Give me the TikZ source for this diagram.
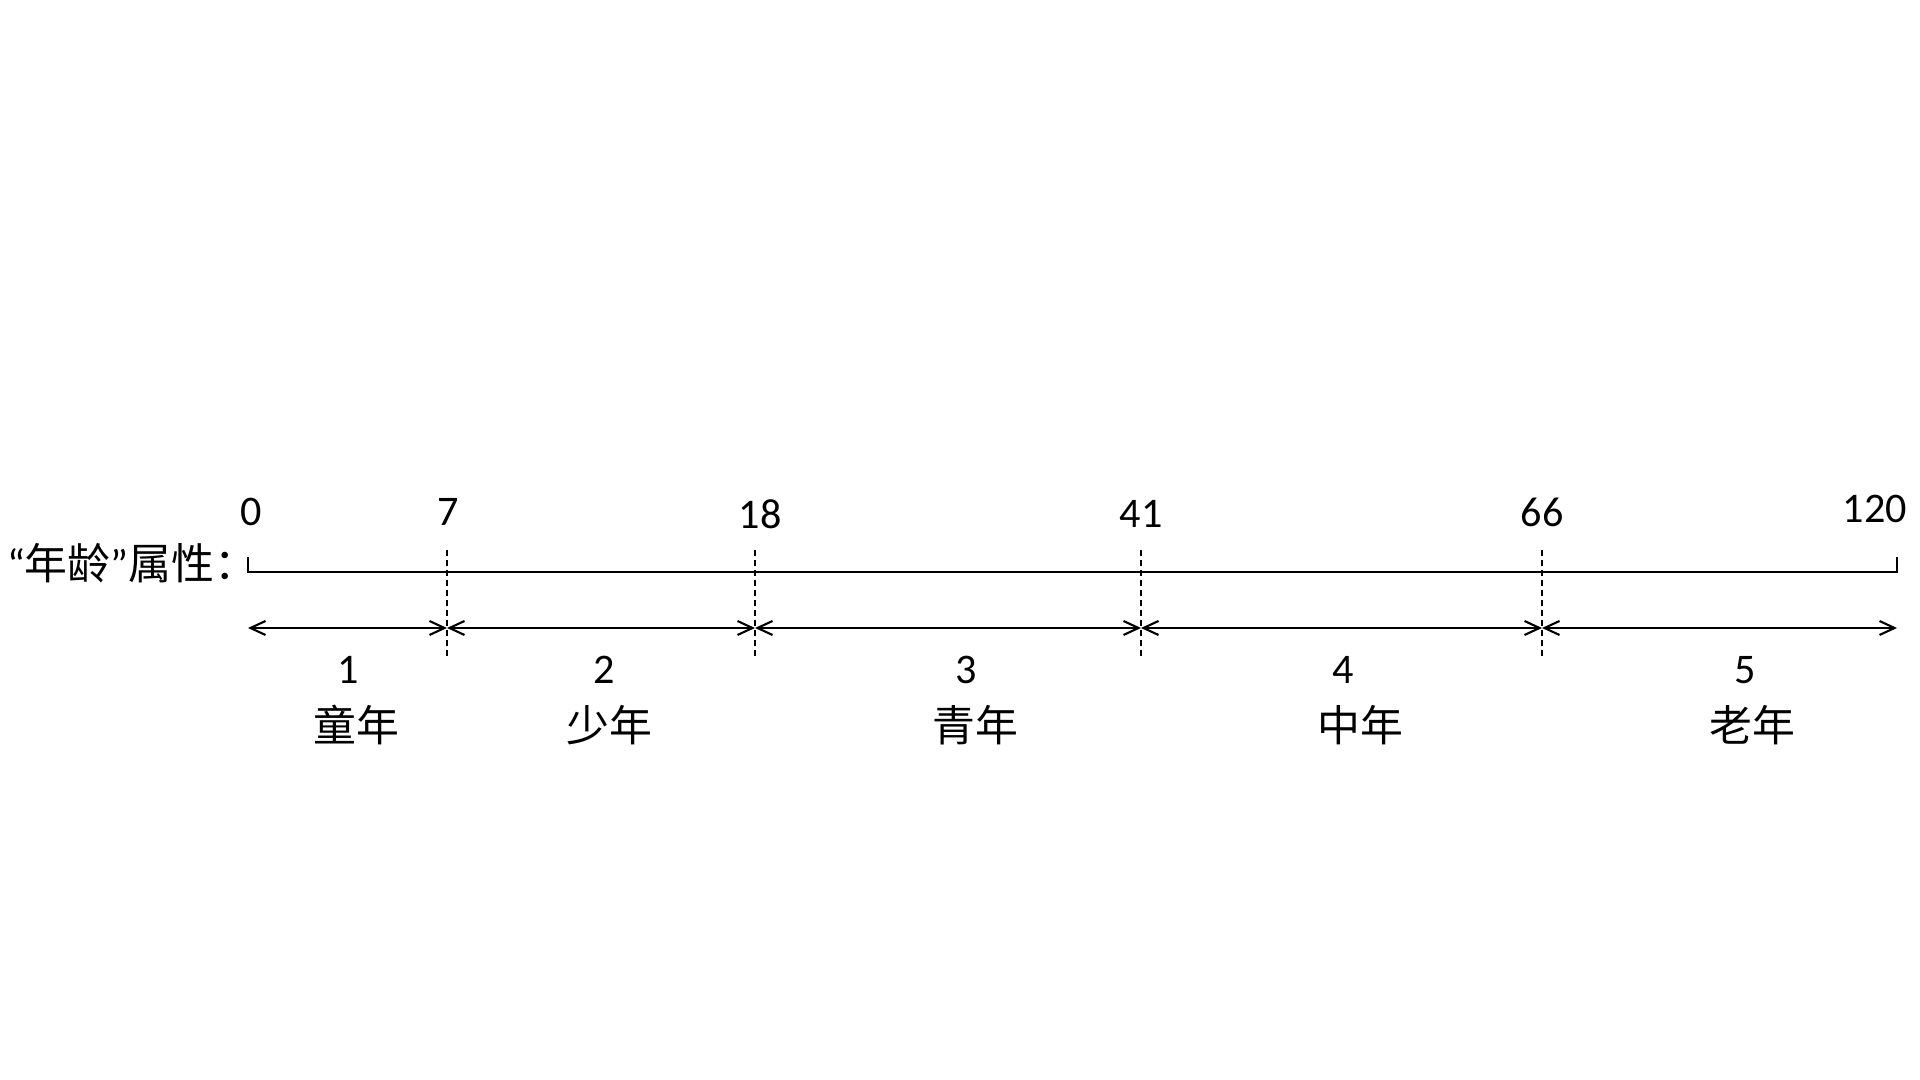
\documentclass[tikz,border=0pt]{standalone}
\usepackage{fontspec}
\setmainfont{Carlito}
\newfontfamily\cjk{Noto Sans CJK SC}
\usepackage{tikz}
\usetikzlibrary{arrows.meta,positioning}

\begin{document}
\begin{tikzpicture}[>={Straight Barb[length=1.5mm,width=1.4mm]},
  axis/.style={line width=0.6pt},
  cut/.style={line width=0.45pt,dash pattern=on 0.6mm off 0.4mm},
  span/.style={<->,line width=0.6pt},
  tick/.style={font=\fontsize{12}{14}\selectfont},
  stage/.style={font=\cjk\fontsize{12.2}{14}\selectfont}]
  \useasboundingbox (0,0) rectangle (19.2,10.8);
  % points on the age axis
  \coordinate (p0) at (2.48,5.08);
  \coordinate (p120) at (18.97,5.08);
  \coordinate (p0top) at (2.48,5.23);
  \coordinate (p120top) at (18.97,5.23);
  \coordinate (c7top) at (4.47,5.30);   \coordinate (c7bot) at (4.47,4.23);
  \coordinate (c18top) at (7.55,5.30);  \coordinate (c18bot) at (7.55,4.23);
  \coordinate (c41top) at (11.41,5.30); \coordinate (c41bot) at (11.41,4.23);
  \coordinate (c66top) at (15.42,5.30); \coordinate (c66bot) at (15.42,4.23);
  % ends of the span arrows
  \coordinate (s0) at (2.48,4.52);
  \coordinate (s7) at (4.47,4.52);
  \coordinate (s18) at (7.55,4.52);
  \coordinate (s41) at (11.41,4.52);
  \coordinate (s66) at (15.42,4.52);
  \coordinate (s120) at (18.97,4.52);
  \node[stage,anchor=east,inner sep=0pt] (attr) at (2.58,5.17)
    {{\rmfamily“}年龄{\rmfamily”}属性：};
  \draw[axis] (p0top) -- (p0) -- (p120) -- (p120top);
  \draw[cut] (c7top) -- (c7bot);
  \draw[cut] (c18top) -- (c18bot);
  \draw[cut] (c41top) -- (c41bot);
  \draw[cut] (c66top) -- (c66bot);
  \node[tick] (t0) at (2.51,5.68) {0};
  \node[tick] (t7) at (4.48,5.68) {7};
  \node[tick] (t18) at (7.60,5.66) {18};
  \node[tick] (t41) at (11.41,5.66) {41};
  \node[tick] (t66) at (15.42,5.68) {66};
  \node[tick] (t120) at (18.75,5.71) {120};
  \draw[span] (s0) -- (s7);
  \draw[span] (s7) -- (s18);
  \draw[span] (s18) -- (s41);
  \draw[span] (s41) -- (s66);
  \draw[span] (s66) -- (s120);
  \node[tick] (n1) at (3.48,4.10) {1};
  \node[tick] (n2) at (6.04,4.10) {2};
  \node[tick] (n3) at (9.66,4.10) {3};
  \node[tick] (n4) at (13.43,4.10) {4};
  \node[tick] (n5) at (17.45,4.10) {5};
  \node[stage] (g1) at (3.56,3.55) {童年};
  \node[stage] (g2) at (6.09,3.55) {少年};
  \node[stage] (g3) at (9.75,3.55) {青年};
  \node[stage] (g4) at (13.60,3.55) {中年};
  \node[stage] (g5) at (17.52,3.55) {老年};
\end{tikzpicture}
\end{document}
